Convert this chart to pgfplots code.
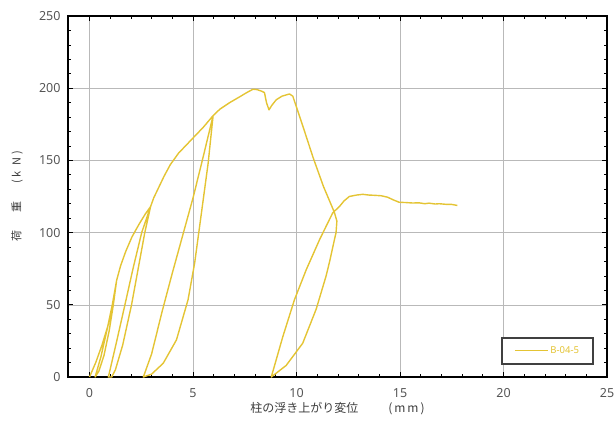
\documentclass[border=0pt]{standalone}
\usepackage{fontspec}
\setmainfont{Noto Sans}
\newfontfamily\jp{Noto Sans CJK JP}
\usepackage{pgfplots}
\pgfplotsset{compat=1.18}
\definecolor{curve}{RGB}{228,196,52}
\definecolor{tickc}{RGB}{85,85,85}
\definecolor{labc}{RGB}{60,60,60}
\begin{document}
\begin{tikzpicture}
\path[use as bounding box] (0,0) rectangle (616pt,426pt);
\begin{axis}[
  at={(68pt,49pt)}, anchor=south west,
  scale only axis, width=539pt, height=361pt,
  xmin=-1.04, xmax=25, ymin=0, ymax=250,
  xtick={0,5,...,25}, ytick={0,50,...,250},
  minor x tick num=4, minor y tick num=4,
  tick align=inside, major tick length=5pt, minor tick length=3pt,
  grid=major, major grid style={gray!55, line width=0.5pt},
  axis line style={line width=1.5pt},
  every tick/.style={black, line width=0.7pt},
  tick label style={font=\fontsize{12.5}{14}\selectfont, text=tickc},
  /pgf/number format/assume math mode=true,
  xticklabel style={yshift=-8pt},
  yticklabel style={xshift=-4pt},
  xlabel={\jp 柱の浮き上がり変位\hspace{30pt}(\hspace{2pt}m\hspace{2pt}m\hspace{2pt})},
  ylabel={\jp 荷\hspace{18pt}重\hspace{18pt}(\hspace{3pt}k\hspace{5pt}N\hspace{3pt})},
  xlabel style={at={(axis description cs:0.5,-0.0886)}, anchor=center, font=\fontsize{12}{14}\selectfont, text=labc},
  ylabel style={at={(axis description cs:-0.0946,0.5)}, anchor=center, font=\fontsize{11}{13}\selectfont, text=labc},
  legend style={at={(rel axis cs:0.976,0.033)}, anchor=south east,
    draw=black!75, line width=2pt,
    font=\fontsize{9.5}{10}\selectfont, text=curve, inner xsep=12pt, inner ysep=7pt},
  legend image code/.code={\draw[curve, line width=1.2pt] (0pt,0pt) -- (33pt,0pt);},
]
\addplot[curve, line width=1.4pt, line join=round] coordinates {
(0,0)(0.3,10)(0.6,22)(0.9,36)(1.15,52)(1.31,67)
(1.15,50)(0.95,32)(0.7,15)(0.45,4)(0.27,0)
(0.55,14)(0.85,33)(1.1,50)(1.31,67)
(1.5,77)(1.75,87)(2.05,97)(2.4,106)(2.7,113)(2.95,118)
(2.67,100)(2.35,75)(2.03,50)(1.6,22)(1.25,5)(1.07,0)(0.91,0)
(1.3,24)(1.71,50)(2.1,75)(2.52,100)(2.95,118)
(3.1,124)(3.3,130)(3.6,139)(3.9,147)(4.3,155)(4.7,161)(5.1,167)(5.5,173)(5.97,181)
(5.73,148)(5.41,114)(5.08,79)(4.76,53.5)(4.2,25.7)(3.56,9.5)(3.0,2)(2.6,0)
(3.0,16)(3.5,45)(4.0,72)(4.5,98)(5.0,124)(5.5,153)(5.97,181)
(6.3,185.5)(6.77,190)(7.25,194)(7.6,197)(7.9,199.3)(8.1,199)(8.3,198)(8.45,197)(8.55,190)(8.67,185)(8.8,188)(9.02,192)(9.3,194.5)(9.66,196)(9.82,194.5)
(10.3,174)(10.8,152)(11.3,132)(11.83,114)(11.95,108)
(11.91,100)(11.83,95)(11.6,80)(11.43,70)(10.95,47)(10.3,23.4)(9.5,8)(8.78,0)
(9.34,28)(9.9,53.5)(10.47,74.3)(11.11,95)(11.75,113.7)(12.07,118)(12.3,122)(12.55,125)(12.9,126)(13.2,126.5)(13.5,126)(13.8,125.8)(14.1,125.5)(14.4,124.5)(14.7,122.5)(14.96,121)(15.3,120.8)(15.6,120.5)(15.93,120.6)(16.2,120)(16.4,120.4)(16.7,119.8)(16.9,120)(17.2,119.6)(17.5,119.5)(17.77,118.8)
};
\addlegendentry{B-04-5}
\end{axis}
\end{tikzpicture}
\end{document}
